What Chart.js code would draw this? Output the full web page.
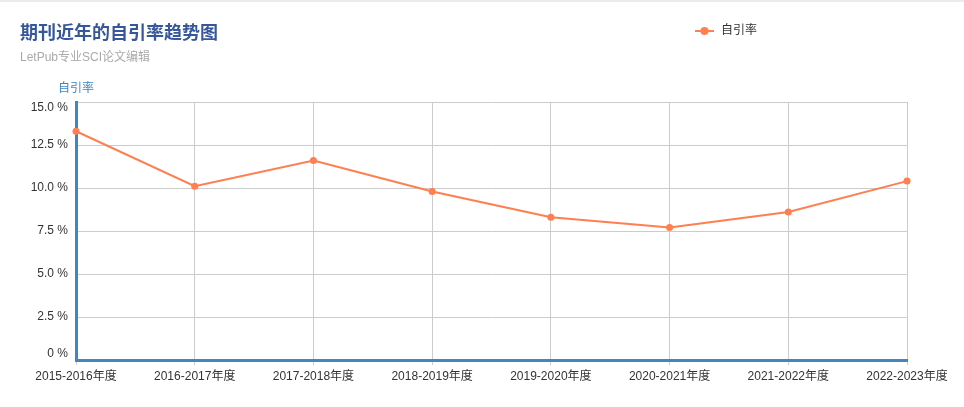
<!DOCTYPE html>
<html>
<head>
<meta charset="utf-8">
<script src="https://cdn.jsdelivr.net/npm/chart.js@4/dist/chart.umd.min.js"></script>
<style>
  html, body { margin: 0; padding: 0; background: #fff; }
  #wrap { width: 964px; height: 407px; position: relative; }
</style>
</head>
<body>
<div id="wrap"><canvas id="c"></canvas></div>
<script>
// Données
const YEARS = ['2015-2016年度','2016-2017年度','2017-2018年度','2018-2019年度',
               '2019-2020年度','2020-2021年度','2021-2022年度','2022-2023年度']
const SELF_CITE = [13.3, 10.1, 11.6, 9.8, 8.3, 7.7, 8.6, 10.4]
const Y_TICKS = [0, 2.5, 5, 7.5, 10, 12.5, 15]

const FONT = '"Liberation Sans", Arial, "Noto Sans CJK SC", sans-serif'
const LINE_COLOR = '#ff7f50'
const AXIS_BLUE = '#3f86c2'

// -- Titre, sous-titre, légende, titre de l'axe --
const decor = {
    id: 'decor',
    beforeDraw(chart) {
        const ctx = chart.ctx
        ctx.save()
        ctx.fillStyle = '#ebebeb'
        ctx.fillRect(0, 0, chart.width, 2)
        ctx.restore()
    },
    afterDraw(chart) {
        const ctx = chart.ctx
        ctx.save()
        ctx.textBaseline = 'middle'
        ctx.textAlign = 'left'

        ctx.fillStyle = '#37579b'
        ctx.font = 'bold 18px ' + FONT
        ctx.fillText('期刊近年的自引率趋势图', 20, 34)

        ctx.fillStyle = '#aaaaaa'
        ctx.font = '12px ' + FONT
        ctx.fillText('LetPub专业SCI论文编辑', 20, 58)

        ctx.fillStyle = AXIS_BLUE
        ctx.font = '12px ' + FONT
        ctx.fillText('自引率', 58, 89)

        // légende
        ctx.strokeStyle = LINE_COLOR
        ctx.lineWidth = 2
        ctx.beginPath()
        ctx.moveTo(695, 31)
        ctx.lineTo(714, 31)
        ctx.stroke()
        ctx.fillStyle = LINE_COLOR
        ctx.beginPath()
        ctx.arc(704.5, 31, 4, 0, Math.PI * 2)
        ctx.fill()
        ctx.fillStyle = '#333'
        ctx.font = '12px ' + FONT
        ctx.fillText('自引率', 721, 31)
        ctx.restore()
    }
}

new Chart(document.getElementById('c'), {
    type: 'line',
    data: {
        labels: YEARS,
        datasets: [{
            label: '自引率',
            data: SELF_CITE,
            borderColor: LINE_COLOR,
            backgroundColor: LINE_COLOR,
            borderWidth: 2,
            pointRadius: 3.5,
            pointBorderWidth: 0,
            tension: 0
        }]
    },
    options: {
        responsive: true,
        maintainAspectRatio: false,
        animation: false,
        layout: { padding: { top: 102, right: 57, left: 0, bottom: 0 } },
        plugins: {
            legend: { display: false },
            tooltip: { enabled: false }
        },
        scales: {
            x: {
                offset: false,
                grid: { color: '#cccccc', lineWidth: 1, tickLength: 5, drawTicks: true },
                border: { color: AXIS_BLUE, width: 3 },
                ticks: {
                    color: '#333',
                    font: { family: FONT, size: 12 },
                    padding: 4,
                    maxRotation: 0,
                    autoSkip: false
                },
                afterFit(scale) { scale.height = 47 }
            },
            y: {
                min: 0,
                max: 15,
                afterBuildTicks(scale) { scale.ticks = Y_TICKS.map(v => ({ value: v })) },
                grid: { color: '#cccccc', lineWidth: 1, drawTicks: false },
                border: { color: AXIS_BLUE, width: 3 },
                ticks: {
                    color: '#333',
                    font: { family: FONT, size: 12, lineHeight: 1.0 },
                    padding: 8,
                    // premier et dernier libellé décalés vers l'intérieur
                    callback: v => {
                        if (v === 0) return ['0 %', '']
                        if (v === 15) return ['', '15.0 %']
                        return v.toFixed(1) + ' %'
                    }
                },
                afterFit(scale) { scale.width = 76 }
            }
        }
    },
    plugins: [decor]
})
</script>
</body>
</html>
